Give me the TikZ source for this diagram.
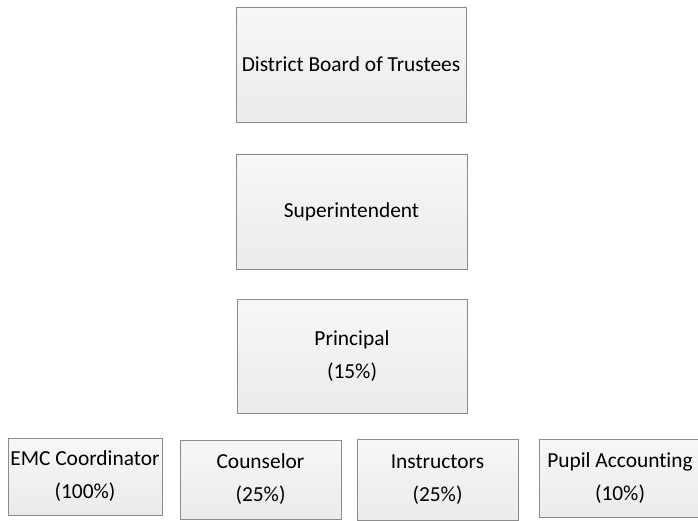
\documentclass[tikz,border=0pt]{standalone}
\usepackage{fontspec}
\setmainfont{Carlito}[Ligatures={NoCommon}]
\definecolor{boxline}{HTML}{8C8C8C}
\definecolor{boxtop}{HTML}{F7F7F7}
\definecolor{boxbot}{HTML}{EBEBEB}
\tikzset{
  orgbox/.style={draw=boxline, line width=0.9pt, top color=boxtop, bottom color=boxbot,
    rectangle, inner sep=0pt, align=center,
    font=\fontsize{21.4}{33}\selectfont},
}
\begin{document}
\begin{tikzpicture}[x=1pt,y=-1pt]
\useasboundingbox (0,0) rectangle (698,521);
\begin{scope}
\clip (0,0) rectangle (698,521);
\node[orgbox, minimum width=230pt, minimum height=115pt] (board) at (351,64.5) {District Board of Trustees};
\node[orgbox, minimum width=231pt, minimum height=115pt] (super) at (351.5,211.5) {Superintendent};
\node[orgbox, minimum width=230pt, minimum height=114pt] (principal) at (352,356) {Principal\\(15\%)};
\node[orgbox, minimum width=154pt, minimum height=77pt] (emc) at (85,476.5) {EMC Coordinator\\(100\%)};
\node[orgbox, minimum width=161pt, minimum height=79pt] (counselor) at (260.5,479.5) {Counselor\\(25\%)};
\node[orgbox, minimum width=161pt, minimum height=81pt] (instructors) at (437.5,479.5) {Instructors\\(25\%)};
\node[orgbox, minimum width=162pt, minimum height=78pt] (pupil) at (620,478) {Pupil Accounting\\(10\%)};
\end{scope}
\end{tikzpicture}
\end{document}
